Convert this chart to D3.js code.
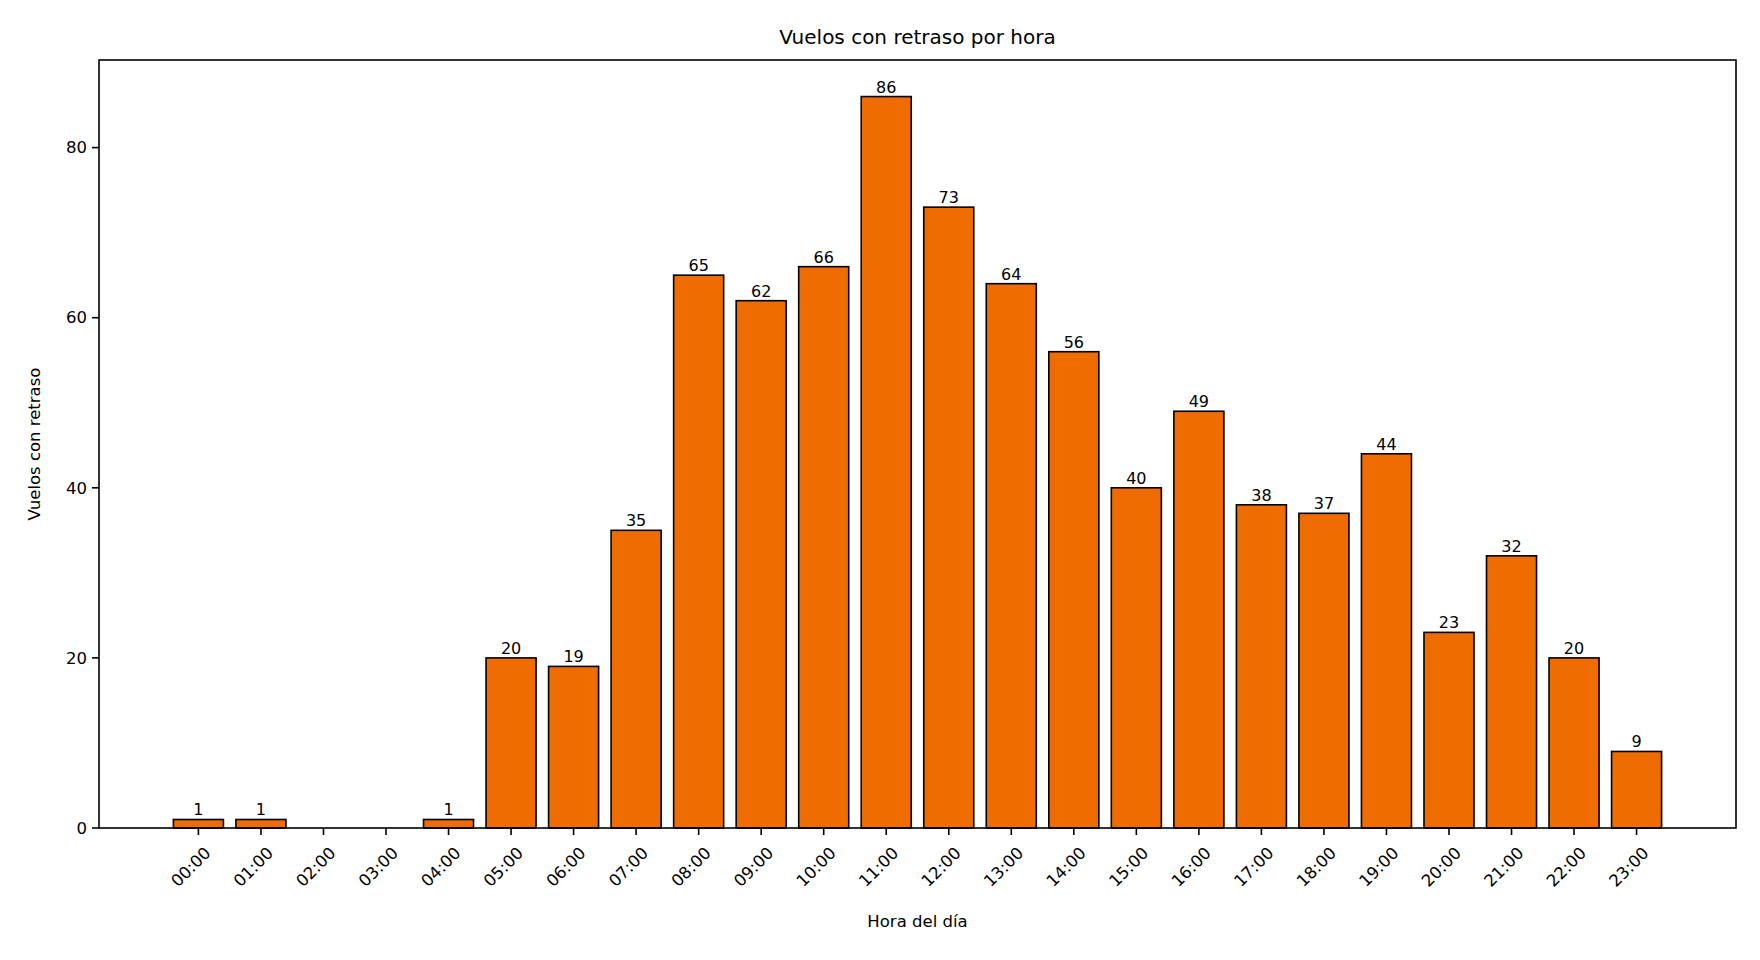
<!DOCTYPE html>
<html><head><meta charset="utf-8">
<script src="https://cdn.jsdelivr.net/npm/d3@7"></script>
<style>body{margin:0;background:#fff;font-family:"DejaVu Sans",sans-serif;}</style>
</head><body>
<script>
var hours = ["00:00","01:00","02:00","03:00","04:00","05:00","06:00","07:00","08:00","09:00","10:00","11:00",
             "12:00","13:00","14:00","15:00","16:00","17:00","18:00","19:00","20:00","21:00","22:00","23:00"];
var delayed = [1,1,0,0,1,20,19,35,65,62,66,86,73,64,56,40,49,38,37,44,23,32,20,9];
var yTicks = [0,20,40,60,80];

var W = 1760, H = 960;
var L = 99, R = 1736, T = 60, B = 828;

var svg = d3.select("body").append("svg").attr("width", W).attr("height", H);

var x = d3.scaleLinear().domain([-1.59, 24.59]).range([L, R]);
var y = d3.scaleLinear().domain([0, 90.3]).range([B, T]);

// bars
svg.selectAll(".bar").data(delayed).enter().append("rect")
  .attr("x", function(d, i){ return x(i - 0.4); })
  .attr("width", x(0.8) - x(0))
  .attr("y", function(d){ return y(d); })
  .attr("height", function(d){ return B - y(d); })
  .style("fill", "#ef6c00")
  .style("stroke", d3.rgb(0,0,0))
  .style("stroke-width", 1.6);

// value labels
svg.selectAll(".lbl").data(delayed).enter().filter(function(d){ return d > 0; })
  .append("text")
  .attr("x", function(d){ return x(delayed.indexOf(d) >= 0 ? 0 : 0); })
  .remove();
delayed.forEach(function(d, i){
  if (d <= 0) return;
  svg.append("text").attr("x", x(i)).attr("y", y(d) - 4)
    .attr("text-anchor", "middle").style("font-size", "16px").text(d);
});

// frame
svg.append("rect").attr("x", L).attr("y", T).attr("width", R - L).attr("height", B - T)
  .style("fill", "none").style("stroke", "#000").style("stroke-width", 1.6);

// x axis
var xt = svg.append("g");
hours.forEach(function(h, i){
  xt.append("line").attr("x1", x(i)).attr("x2", x(i)).attr("y1", B).attr("y2", B + 7)
    .style("stroke", "#000").style("stroke-width", 1.6);
  xt.append("text").attr("transform", "translate(" + (x(i) + 5) + "," + (B + 18) + ") rotate(-45)")
    .attr("text-anchor", "end").attr("dy", "0.7em").style("font-size", "16.5px").text(h);
});

// y axis
yTicks.forEach(function(v){
  svg.append("line").attr("x1", L - 7).attr("x2", L).attr("y1", y(v)).attr("y2", y(v))
    .style("stroke", "#000").style("stroke-width", 1.6);
  svg.append("text").attr("x", L - 12).attr("y", y(v)).attr("dy", "0.35em")
    .attr("text-anchor", "end").style("font-size", "16.5px").text(v);
});

svg.append("text").attr("x", (L + R) / 2).attr("y", 44).attr("text-anchor", "middle")
  .style("font-size", "20px").text("Vuelos con retraso por hora");
svg.append("text").attr("x", (L + R) / 2).attr("y", 927).attr("text-anchor", "middle")
  .style("font-size", "16.5px").text("Hora del día");
svg.append("text").attr("transform", "translate(40," + (T + B) / 2 + ") rotate(-90)")
  .attr("text-anchor", "middle").style("font-size", "16.5px").text("Vuelos con retraso");
</script>
</body></html>
